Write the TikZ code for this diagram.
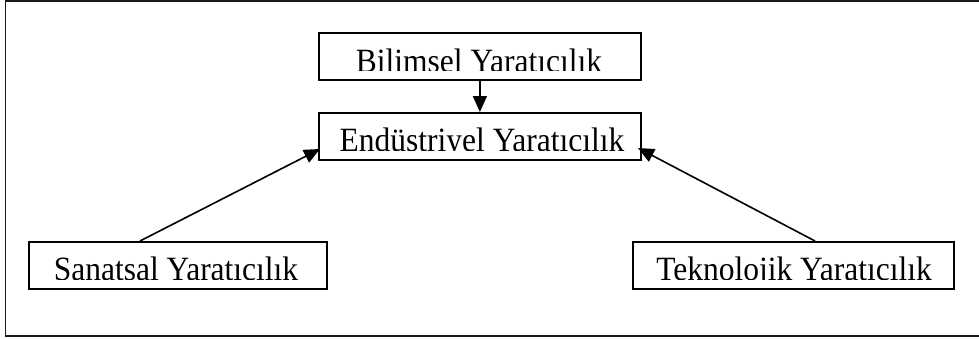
\documentclass[tikz,border=0pt]{standalone}
\usepackage{fontspec}
\setmainfont{Liberation Serif}
\usetikzlibrary{arrows.meta}
\begin{document}
\begin{tikzpicture}[x=1pt,y=-1pt,
  box/.style={draw=black, line width=1.8pt, rectangle, inner sep=0pt, anchor=north west},
  lbl/.style={anchor=base, inner sep=0pt, font=\fontsize{31.5}{36}\selectfont, yscale=1.08},
  conn/.style={draw=black, line width=1.6pt, -{Triangle[length=16pt 0,width=14pt 0]}},
  frame/.style={draw=black!90, line width=1.8pt}]
\useasboundingbox (0,0) rectangle (979,338);
% outer frame (right side lies outside the picture)
\coordinate (ftr) at (990,1);
\coordinate (ftl) at (5.5,1);
\coordinate (fbl) at (5.5,336);
\coordinate (fbr) at (990,336);
\begin{scope}
\clip (0,0) rectangle (979,338);
\draw[frame] (ftr) -- (ftl) -- (fbl) -- (fbr);
\end{scope}
% boxes
\node[box, minimum width=322pt, minimum height=47pt] (bil) at (318,32) {};
\node[box, minimum width=322pt, minimum height=47pt] (end) at (318,112) {};
\node[box, minimum width=298pt, minimum height=47pt] (san) at (28,241) {};
\node[box, minimum width=321pt, minimum height=47pt] (tek) at (632,241) {};
% clipped labels
\begin{scope}
\clip (318,32) rectangle (640,70);
\node[lbl] (bilt) at (479,72.5) {Bilimsel Yaratıcılık};
\end{scope}
\begin{scope}
\clip (318,112) rectangle (640,150);
\node[lbl] (endt) at (482,151.5) {Endüstriyel Yaratıcılık};
\end{scope}
\begin{scope}
\clip (28,241) rectangle (326,279);
\node[lbl] (sant) at (176,280.5) {Sanatsal Yaratıcılık};
\end{scope}
\begin{scope}
\clip (632,241) rectangle (953,279);
\node[lbl] (tekt) at (794,280.5) {Teknolojik Yaratıcılık};
\end{scope}
% connectors
\coordinate (endL) at (320,149);
\coordinate (endR) at (638,148);
\coordinate (sanT) at (140,241);
\coordinate (tekT) at (815,241);
\draw[conn] (bil.south) -- (end.north);
\draw[conn] (sanT) -- (endL);
\draw[conn] (tekT) -- (endR);
\end{tikzpicture}
\end{document}
